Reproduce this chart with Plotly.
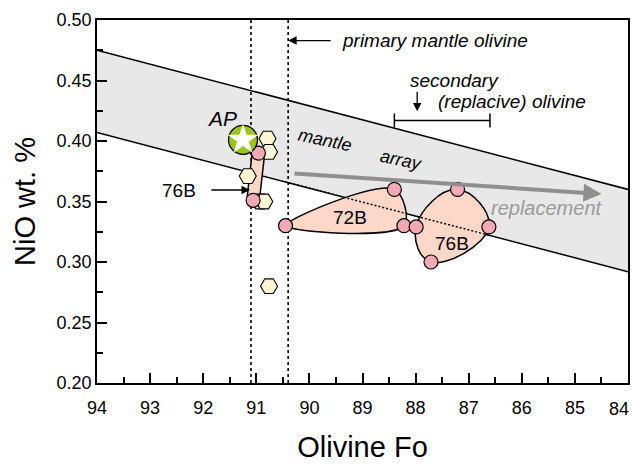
import numpy as np
import plotly.graph_objects as go

# Axis ticks
fo_ticks = list(range(94, 83, -1))
fo_ticktext = [str(v) for v in fo_ticks[:-1]] + [""]   # last label placed as annotation
nio_ticks = [0.20, 0.25, 0.30, 0.35, 0.40, 0.45, 0.50]

# Mantle olivine array (upper / lower bounds)
array_fo = [94, 84]
array_upper = [0.475, 0.360]
array_lower = [0.407, 0.292]

# Primary mantle olivine Fo limits
primary_fo = [91.1, 90.4]

# AP olivine
ap_fo = [91.25]
ap_nio = [0.401]

# Other olivine analyses (hexagons)
hex_fo = [90.79, 90.76, 91.16, 90.93, 90.85, 90.76]
hex_nio = [0.402, 0.391, 0.371, 0.350, 0.350, 0.280]

# Sample 76B, olivine clot near Fo 91
c76_fo = [90.96, 91.06]
c76_nio = [0.390, 0.351]

# Sample 72B olivines
s72_fo = [90.45, 88.40, 88.22]
s72_nio = [0.330, 0.360, 0.330]

# Sample 76B olivines
s76_fo = [87.99, 87.21, 86.62, 87.71]
s76_nio = [0.329, 0.360, 0.329, 0.300]

# Secondary (replacive) olivine Fo range
secondary_fo = [88.4, 86.6]
secondary_nio = 0.417

# Replacement trend arrow (tail, head)
trend_fo = [90.31, 84.5]
trend_nio = [0.3733, 0.3562]

PINK = "#f5a9b5"
BLOB = "#fdd8c8"
CREAM = "#fff6d6"
FONT = "Liberation Sans, Arial, sans-serif"

fig = go.Figure()

# mantle array band
fig.add_trace(go.Scatter(x=array_fo, y=array_lower, mode="lines",
                         line=dict(color="black", width=1.5), hoverinfo="skip"))
fig.add_trace(go.Scatter(x=array_fo, y=array_upper, mode="lines", fill="tonexty",
                         fillcolor="#e8e8e8",
                         line=dict(color="black", width=1.5), hoverinfo="skip"))

# primary mantle olivine limits
for f in primary_fo:
    fig.add_trace(go.Scatter(x=[f, f], y=[0.20, 0.50], mode="lines",
                             line=dict(color="black", width=1.6, dash="3px,3px"),
                             hoverinfo="skip"))

# 72B and 76B envelopes
def closed(xs, ys):
    return list(xs) + [xs[0]], list(ys) + [ys[0]]

for (fx, fy), sm in (((s72_fo, s72_nio), 1.0), ((s76_fo, s76_nio), 1.3)):
    cx, cy = closed(fx, fy)
    fig.add_trace(go.Scatter(x=cx, y=cy, mode="lines", fill="toself",
                             fillcolor=BLOB,
                             line=dict(color="black", width=1.5, shape="spline", smoothing=sm),
                             hoverinfo="skip"))

# lower array bound shown dotted across the envelopes
seg_fo = [max(s72_fo), min(s76_fo)]
seg_nio = list(np.interp(seg_fo, array_fo[::-1], array_lower[::-1]))
fig.add_trace(go.Scatter(x=seg_fo, y=seg_nio, mode="lines",
                         line=dict(color="black", width=1.5, dash="2px,2px"),
                         hoverinfo="skip"))

# 76B clot link
fig.add_trace(go.Scatter(x=c76_fo, y=c76_nio, mode="lines",
                         line=dict(color="black", width=14), hoverinfo="skip"))
fig.add_trace(go.Scatter(x=c76_fo, y=c76_nio, mode="lines",
                         line=dict(color=BLOB, width=11), hoverinfo="skip"))

# hexagon analyses
fig.add_trace(go.Scatter(x=hex_fo, y=hex_nio, mode="markers",
                         marker=dict(symbol="hexagon2", size=17, color=CREAM,
                                     line=dict(color="black", width=1.1)),
                         hoverinfo="skip"))

# pink olivine analyses
fig.add_trace(go.Scatter(x=c76_fo + s72_fo + s76_fo, y=c76_nio + s72_nio + s76_nio,
                         mode="markers",
                         marker=dict(symbol="circle", size=14, color=PINK,
                                     line=dict(color="black", width=1.2)),
                         hoverinfo="skip"))

# AP
fig.add_trace(go.Scatter(x=ap_fo, y=ap_nio, mode="markers",
                         marker=dict(symbol="circle", size=29, color="#9dc41c",
                                     line=dict(color="black", width=1.2)),
                         hoverinfo="skip"))
fig.add_trace(go.Scatter(x=ap_fo, y=ap_nio, mode="markers",
                         marker=dict(symbol="star", size=23, color="white",
                                     line=dict(width=0)),
                         hoverinfo="skip"))

# secondary olivine range bar
fig.add_trace(go.Scatter(x=secondary_fo, y=[secondary_nio] * 2, mode="lines+markers",
                         line=dict(color="black", width=1.5),
                         marker=dict(symbol="line-ns-open", size=10,
                                     line=dict(color="black", width=1.5)),
                         hoverinfo="skip"))

ann = []
# last x tick label, kept inside the figure edge
ann.append(dict(x=fo_ticks[-1], y=0, xref="x", yref="paper", text=str(fo_ticks[-1]),
                xanchor="right", yanchor="top", xshift=3, yshift=-14,
                showarrow=False, font=dict(size=18, color="black", family=FONT)))
# replacement trend arrow
ann.append(dict(x=trend_fo[1], y=trend_nio[1], ax=trend_fo[0], ay=trend_nio[0],
                xref="x", yref="y", axref="x", ayref="y", text="",
                showarrow=True, arrowhead=2, arrowsize=0.9, arrowwidth=4,
                arrowcolor="#8f8f8f"))
ann.append(dict(x=85.53, y=0.345, xref="x", yref="y", text="<i>replacement</i>",
                showarrow=False, font=dict(size=20, color="#9a9a9a", family=FONT)))
ann.append(dict(x=89.71, y=0.4008, xref="x", yref="y", text="<i>mantle</i>",
                showarrow=False, textangle=12, font=dict(size=18, color="black", family=FONT)))
ann.append(dict(x=88.27, y=0.3843, xref="x", yref="y", text="<i>array</i>",
                showarrow=False, textangle=12, font=dict(size=18, color="black", family=FONT)))
ann.append(dict(x=91.65, y=0.419, xref="x", yref="y", text="<i>AP</i>",
                showarrow=False, font=dict(size=21, color="black", family=FONT)))
ann.append(dict(x=89.24, y=0.3364, xref="x", yref="y", text="72B",
                showarrow=False, font=dict(size=19, color="black", family=FONT)))
ann.append(dict(x=87.32, y=0.315, xref="x", yref="y", text="76B",
                showarrow=False, font=dict(size=19, color="black", family=FONT)))
# 76B clot pointer
ann.append(dict(x=91.12, y=0.3595, xref="x", yref="y", ax=-40, ay=0, text="",
                showarrow=True, arrowhead=2, arrowsize=1.3, arrowwidth=1.3,
                arrowcolor="black"))
ann.append(dict(x=92.1, y=0.3595, xref="x", yref="y", text="76B", xanchor="right",
                showarrow=False, font=dict(size=19, color="black", family=FONT)))
# primary mantle olivine pointer
ann.append(dict(x=primary_fo[1], y=0.483, xref="x", yref="y", ax=44, ay=0, text="",
                showarrow=True, arrowhead=2, arrowsize=1.3, arrowwidth=1.3,
                arrowcolor="black"))
ann.append(dict(x=89.42, y=0.483, xref="x", yref="y", xanchor="left",
                text="<i>primary mantle olivine</i>",
                showarrow=False, font=dict(size=19, color="black", family=FONT)))
# secondary olivine pointer
ann.append(dict(x=87.97, y=0.4245, xref="x", yref="y", ax=0, ay=-21, text="",
                showarrow=True, arrowhead=2, arrowsize=1.3, arrowwidth=1.3,
                arrowcolor="black"))
ann.append(dict(x=87.26, y=0.4504, xref="x", yref="y", text="<i>secondary</i>",
                showarrow=False, font=dict(size=19, color="black", family=FONT)))
ann.append(dict(x=87.62, y=0.433, xref="x", yref="y", xanchor="left",
                text="<i>(replacive) olivine</i>",
                showarrow=False, font=dict(size=19, color="black", family=FONT)))

axis_common = dict(showgrid=False, zeroline=False, showline=True, linecolor="black",
                   linewidth=1.5, mirror=True, ticks="inside", tickcolor="black",
                   tickwidth=1.5, ticklabeloverflow="allow", automargin=False,
                   tickfont=dict(size=18, color="black", family=FONT))

fig.update_layout(
    width=632, height=465,
    margin=dict(l=97, r=4, t=20, b=82),
    paper_bgcolor="white", plot_bgcolor="white",
    showlegend=False,
    annotations=ann,
    xaxis=dict(range=[94, 84], tickvals=fo_ticks, ticktext=fo_ticktext,
               ticklen=10, ticklabelstandoff=8,
               minor=dict(dtick=0.5, ticks="inside", ticklen=6, tickcolor="black", tickwidth=1.5),
               title=dict(text="Olivine Fo", font=dict(size=29, color="black", family=FONT),
                          standoff=19),
               **axis_common),
    yaxis=dict(range=[0.20, 0.50], tickvals=nio_ticks, tickformat=".2f", ticklen=10,
               minor=dict(dtick=0.025, ticks="inside", ticklen=6, tickcolor="black", tickwidth=1.5),
               title=dict(text="NiO wt. %", font=dict(size=29, color="black", family=FONT),
                          standoff=12),
               **axis_common),
)

fig.write_html("out.html")
